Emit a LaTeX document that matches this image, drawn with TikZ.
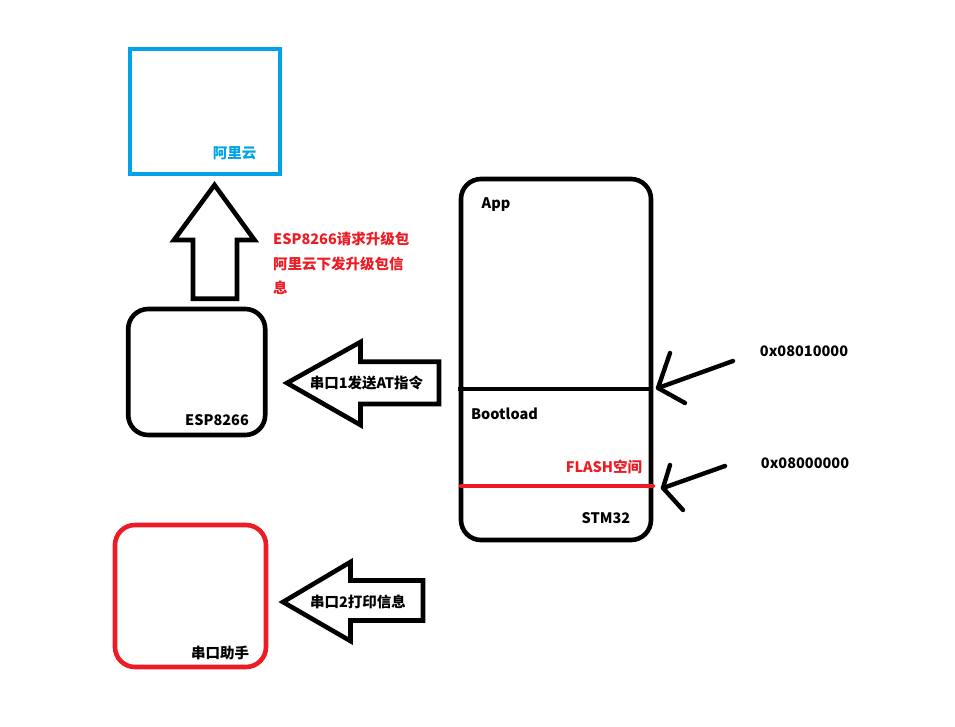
\documentclass[tikz,border=0pt]{standalone}
\usepackage{fontspec}
\setmainfont{Noto Sans CJK SC}
\usetikzlibrary{positioning}
\definecolor{cloudblue}{HTML}{00A2E8}
\definecolor{paintred}{HTML}{ED1C24}

\begin{document}
\begin{tikzpicture}[x=1pt,y=-1pt,
  every node/.style={font=\bfseries\fontsize{14.5}{24.5}\selectfont,inner sep=0pt},
  box/.style={draw,line width=4.6pt,rounded corners=20pt},
  blockarrow/.style={line width=4.6pt,line join=miter},
  pointer/.style={line width=4.4pt,line cap=round,line join=round}]
\useasboundingbox (0,0) rectangle (955,727);
% three boxes on the left, STM32 on the right
\node[box,draw=cloudblue,rounded corners=0pt,minimum width=150pt,minimum height=125pt] (cloud) at (205,111.5) {};
\node[box,minimum width=137pt,minimum height=126pt] (esp) at (196.7,372) {};
\node[box,draw=paintred,minimum width=151pt,minimum height=142pt] (helper) at (190.5,596) {};
\node[box,minimum width=190pt,minimum height=361pt] (stm) at (556,359.5) {};
% flash split lines
\coordinate (appL) at (458,389); \coordinate (appR) at (651,389);
\draw[line width=4.8pt] (appL) -- (appR);
\coordinate (bootL) at (461,486); \coordinate (bootR) at (653,486);
\draw[paintred,line width=4.2pt,line cap=round] (bootL) -- (bootR);
% box labels
\node[text=cloudblue] (cloudlab) at (234.5,153) {阿里云};
\node (esplab) at (217,420) {ESP8266};
\node (helperlab) at (220,653) {串口助手};
\node (applab) at (496,205) {App};
\node (bootlab) at (504.5,414) {Bootload};
\node[text=paintred] (flashlab) at (604,467) {FLASH空间};
\node (stmlab) at (606,518) {STM32};
% up arrow ESP8266 -> cloud
\draw[blockarrow] (193,298.7) -- (193,240) -- (174,240) -- (214.5,185) -- (254.5,240) -- (237,240) -- (237,298.7) -- cycle;
\node[text=paintred,align=left,anchor=north west] (upmsg) at (273,232) {ESP8266请求升级包\\阿里云下发升级包信\\息};
% left arrow STM32 -> ESP8266
\draw[blockarrow] (439,361.7) -- (360.5,361.7) -- (360.5,342) -- (287,383) -- (360.5,425) -- (360.5,404) -- (439,404) -- cycle;
\node (uart1) at (366.5,383) {串口1发送AT指令};
% left arrow STM32 -> helper
\draw[blockarrow] (423,580.5) -- (350.5,580.5) -- (350.5,562) -- (283,602) -- (350.5,641) -- (350.5,620.5) -- (423,620.5) -- cycle;
\node (uart2) at (358,602) {串口2打印信息};
% address pointers
\node (addrapp) at (804,351) {0x08010000};
\node (addrboot) at (805,463) {0x08000000};
\coordinate (appTail) at (733,361); \coordinate (appTip) at (658,388);
\coordinate (appUp) at (670,353); \coordinate (appDown) at (685,403);
\draw[pointer] (appTail) -- (appTip);
\draw[pointer] (appUp) -- (appTip) -- (appDown);
\coordinate (bootTail) at (725,466); \coordinate (bootTip) at (663,488);
\coordinate (bootUp) at (670,465); \coordinate (bootDown) at (683,510);
\draw[pointer] (bootTail) -- (bootTip);
\draw[pointer] (bootUp) -- (bootTip) -- (bootDown);
\end{tikzpicture}
\end{document}
